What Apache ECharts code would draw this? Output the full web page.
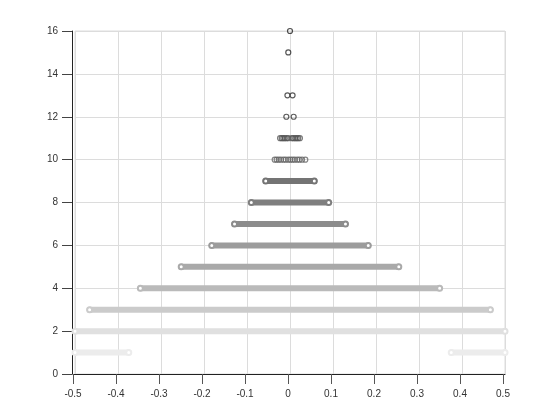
<!DOCTYPE html>
<html><head><meta charset="utf-8">
<script src="https://cdn.jsdelivr.net/npm/echarts@6/dist/echarts.min.js"></script>
<style>html,body{margin:0;padding:0;background:#fff}#c{width:560px;height:420px}</style>
</head><body><div id="c"></div>
<script>
// Continuous bands of dense points (row value, left end, right end)
const bandY    = [1, 1, 2, 3, 4, 5, 6, 7, 8, 9];
const bandFrom = [-0.5, 0.375, -0.5, -0.466, -0.348, -0.253, -0.182, -0.129, -0.090, -0.0565];
const bandTo   = [-0.375, 0.5, 0.5, 0.466, 0.348, 0.253, 0.182, 0.129, 0.090, 0.0565];
// Discrete points in the upper rows
const row10X = [-0.0356, -0.031, -0.026, -0.021, -0.015, -0.010, -0.004, 0.001, 0.006, 0.011, 0.017, 0.022, 0.028, 0.0356];
const row11X = [-0.023, -0.019, -0.0155, -0.012, -0.008, -0.004, 0.004, 0.008, 0.012, 0.0155, 0.019, 0.023];
const row12X = [-0.0085, 0.0085];
const row13X = [-0.006, 0.006];
const row15X = [-0.004];
const row16X = [0.0];
const yTicks = [0, 2, 4, 6, 8, 10, 12, 14, 16];

// styles
const shade = {1:'#ececec',2:'#e0e0e0',3:'#cbcbcb',4:'#bababa',5:'#a9a9a9',6:'#9c9c9c',7:'#8c8c8c',8:'#7f7f7f',9:'#747474',10:'#666666',11:'#555555',12:'#333333',13:'#333333',15:'#2a2a2a',16:'#222222'};
const SYM = 5, BW = 1.2;

const series = [];
bandY.forEach((y, i) => {
  const c = shade[y];
  series.push({
    type: 'line', xAxisIndex: 0, yAxisIndex: 0, clip: false, silent: true,
    data: [[bandFrom[i], y], [bandTo[i], y]],
    symbol: 'emptyCircle', symbolSize: SYM, showSymbol: true,
    lineStyle: {color: c, width: 6, cap: 'round'},
    itemStyle: {color: c, borderColor: c, borderWidth: BW}
  });
});
const dotRows = [[10, row10X], [11, row11X], [12, row12X], [13, row13X], [15, row15X], [16, row16X]];
dotRows.forEach(([y, xs]) => {
  const c = shade[y];
  series.push({
    type: 'scatter', xAxisIndex: 0, yAxisIndex: 0, clip: false, silent: true,
    data: xs.map(x => [x, y]),
    symbol: 'circle', symbolSize: SYM,
    itemStyle: {color: 'rgba(0,0,0,0)', borderColor: c, borderWidth: BW}
  });
});

const labelFont = {color: '#333', fontSize: 10, fontFamily: 'Liberation Sans, Arial, sans-serif'};
const chart = echarts.init(document.getElementById('c'), null, {renderer: 'canvas'});
chart.setOption({
  animation: false,
  grid: [
    {left: 75, right: 55, top: 31, bottom: 46, show: true, borderColor: '#dcdcdc', borderWidth: 1, backgroundColor: 'rgba(0,0,0,0)'},
    {left: 73, right: 57, top: 31, bottom: 46, show: false}
  ],
  xAxis: [
    {type: 'value', gridIndex: 0, min: -0.5, max: 0.5, interval: 0.1,
     axisLine: {show: true, onZero: false, lineStyle: {color: '#222', width: 1}},
     axisTick: {show: false}, axisLabel: {show: false},
     splitLine: {show: true, lineStyle: {color: '#dcdcdc', width: 1}}},
    {type: 'value', gridIndex: 1, min: -0.5, max: 0.5, interval: 0.1,
     axisLine: {show: true, onZero: false, lineStyle: {color: '#222', width: 1}},
     axisTick: {show: true, length: 10, lineStyle: {color: '#555', width: 1}},
     axisLabel: Object.assign({margin: 15, formatter: v => String(+v.toFixed(1))}, labelFont),
     splitLine: {show: false}}
  ],
  yAxis: [
    {type: 'value', gridIndex: 0, min: yTicks[0], max: yTicks[yTicks.length - 1], interval: 2, offset: 3,
     axisLine: {show: true, onZero: false, lineStyle: {color: '#222', width: 1}},
     axisTick: {show: true, length: 10, lineStyle: {color: '#444', width: 1}},
     axisLabel: Object.assign({margin: 14}, labelFont),
     splitLine: {show: true, lineStyle: {color: '#dcdcdc', width: 1}}},
    {type: 'value', gridIndex: 1, min: 0, max: 16, show: false}
  ],
  series: series
});
</script>
</body></html>
